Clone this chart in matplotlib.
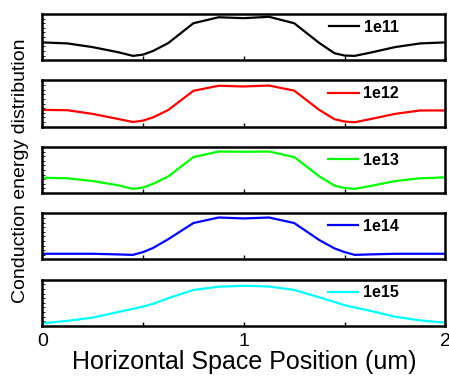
import numpy as np
import matplotlib
matplotlib.use('Agg')
import matplotlib.pyplot as plt

plt.rcParams['font.family'] = ['Liberation Sans', 'DejaVu Sans']

# horizontal position (um)
x = [0, 0.125, 0.25, 0.375, 0.45, 0.5, 0.55, 0.625, 0.75, 0.875, 1.0,
     1.125, 1.25, 1.375, 1.45, 1.5, 1.55, 1.625, 1.75, 1.875, 2.0]

# conduction energy distribution (arbitrary units) for each dose
e11 = [0.385, 0.363, 0.283, 0.174, 0.093, 0.12, 0.20, 0.37, 0.80, 0.93, 0.91,
       0.94, 0.80, 0.37, 0.15, 0.10, 0.093, 0.16, 0.283, 0.363, 0.385]
e12 = [0.363, 0.355, 0.276, 0.167, 0.10, 0.13, 0.20, 0.36, 0.776, 0.885, 0.87,
       0.89, 0.78, 0.36, 0.16, 0.11, 0.094, 0.16, 0.276, 0.35, 0.35]
e13 = [0.333, 0.32, 0.26, 0.17, 0.09, 0.12, 0.20, 0.36, 0.78, 0.90, 0.895,
       0.90, 0.78, 0.36, 0.16, 0.11, 0.09, 0.15, 0.26, 0.32, 0.34]
e14 = [0.124, 0.124, 0.124, 0.11, 0.10, 0.16, 0.25, 0.44, 0.79, 0.91, 0.89,
       0.91, 0.79, 0.42, 0.24, 0.16, 0.10, 0.11, 0.124, 0.124, 0.124]
e15 = [0.058, 0.11, 0.18, 0.30, 0.37, 0.42, 0.48, 0.60, 0.78, 0.85, 0.87,
       0.855, 0.78, 0.62, 0.52, 0.45, 0.40, 0.33, 0.20, 0.12, 0.07]

labels = ['1e11', '1e12', '1e13', '1e14', '1e15']
colors = ['black', '#ff0000', '#00ff00', '#0000ff', '#00ffff']
series = [e11, e12, e13, e14, e15]

fig, axes = plt.subplots(5, 1, figsize=(4.49, 3.79), dpi=100, sharex=True)
fig.subplots_adjust(left=0.094, right=0.992, top=0.963, bottom=0.140, hspace=0.44)

for ax, y, lab, c in zip(axes, series, labels, colors):
    ax.plot(x, y, color=c, lw=1.6, label=lab)
    ax.set_xlim(0, 2)
    ax.set_ylim(0, 1)
    for s in ax.spines.values():
        s.set_linewidth(1.8)
    ax.set_yticks(np.linspace(0, 1, 11))
    ax.set_yticklabels([])
    ax.tick_params(axis='y', direction='in', length=2, width=0.6)
    ax.tick_params(axis='x', direction='in', length=3, width=1)
    ax.set_xticks([0, 0.5, 1, 1.5, 2])
    ax.legend(loc='upper right', frameon=False, handlelength=1.9,
              handletextpad=0.3, borderaxespad=0.1,
              prop={'weight': 'bold', 'size': 11.5},
              bbox_to_anchor=(0.905, 1.05))

axes[-1].set_xticklabels(['0', '', '1', '', '2'], fontsize=14)
axes[-1].tick_params(axis='x', pad=5)
axes[-1].set_xlabel('Horizontal Space Position (um)', fontsize=18, labelpad=0)
fig.text(0.045, 0.55, 'Conduction energy distribution', rotation=90,
         ha='center', va='center', fontsize=14)

plt.savefig('out.png', dpi=100)
